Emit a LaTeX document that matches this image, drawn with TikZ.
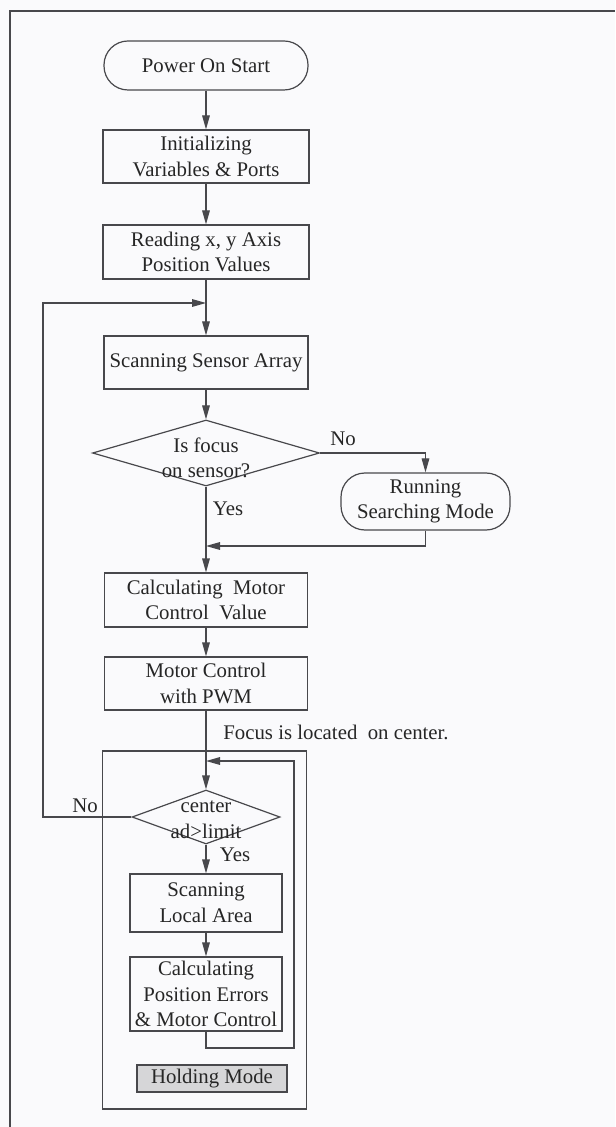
\documentclass[tikz,border=0pt]{standalone}
\usepackage{fontspec}
\setmainfont{Liberation Serif}
\usepackage{xcolor}
\usetikzlibrary{shapes.geometric,arrows,arrows.meta,calc,positioning}
\definecolor{ink}{RGB}{72,72,76}
\definecolor{paper}{RGB}{250,250,252}
\definecolor{holdgray}{RGB}{214,214,216}

\begin{document}
\begin{tikzpicture}[x = 0.5pt, y = -0.5pt]
	\tikzstyle{every node} = [font = \fontsize{10.4}{12.8}\selectfont, text = black!85, align = center]
	\tikzstyle{box} = [rectangle, draw = ink, line width = 0.6pt, inner sep = 0pt]
	\tikzstyle{term} = [rectangle, rounded corners = 12pt, draw = ink, line width = 0.6pt, inner sep = 0pt]
	\tikzstyle{dec} = [diamond, draw = ink, line width = 0.6pt, inner sep = 0pt]
	\tikzstyle{arr} = [draw = ink, line width = 0.6pt, -{Triangle[length = 7pt, width = 3.8pt]}]
\fill[paper] (0, 0) rectangle (615, 1127);
\useasboundingbox (0, 0) rectangle (615, 1127);
\draw[ink, line width = 0.8pt] (10, 1127) -- (10, 11) -- (615, 11);
% main column
\node[term, minimum width = 102pt, minimum height = 24.5pt] (0) at (206, 65.5) {Power On Start};
\node[box, minimum width = 103pt, minimum height = 26.5pt] (1) at (206, 156.5) {Initializing\\Variables \& Ports};
\node[box, minimum width = 103pt, minimum height = 27pt] (2) at (206, 252) {Reading x, y Axis\\Position Values};
\node[box, minimum width = 102pt, minimum height = 26.5pt] (3) at (206, 362.5) {Scanning Sensor Array};
\node[dec, minimum width = 113.5pt, minimum height = 33pt, label = {[align = center, yshift = -2.5pt]center:Is focus\\on sensor?}] (4) at (206, 453) {};
\node[term, minimum width = 84.5pt, minimum height = 28.5pt] (5) at (425.5, 501.5) {Running\\Searching Mode};
\node[box, minimum width = 101.5pt, minimum height = 27pt] (6) at (206, 600) {Calculating\ \ Motor\\Control\ \ Value};
\node[box, minimum width = 101.5pt, minimum height = 26.5pt] (7) at (206, 683.5) {Motor Control\\with PWM};
% holding mode
\node[box, minimum width = 102pt, minimum height = 179pt] (8) at (204.5, 930) {};
\node[dec, minimum width = 74pt, minimum height = 27pt, label = {[align = center, yshift = -1.5pt]center:center\\ad>limit}] (9) at (206, 817) {};
\node[box, minimum width = 76pt, minimum height = 29pt] (10) at (206, 903) {Scanning\\Local Area};
\node[box, minimum width = 76pt, minimum height = 37pt] (11) at (206, 994) {Calculating\\Position Errors\\\& Motor Control};
\node[box, fill = holdgray, minimum width = 75pt, minimum height = 13.5pt] (12) at (212, 1078.5) {Holding Mode};
% labels
\node (13) at (343, 439) {No};
\node (14) at (228, 509) {Yes};
\node (15) at (336, 732) {Focus is located\ \ on center.};
\node (16) at (85, 806) {No};
\node (17) at (235, 855) {Yes};
\coordinate (a) at (206, 303);
\coordinate (b) at (43, 817);
\coordinate (c) at (206, 546);
\coordinate (d) at (294, 1048);
\coordinate (e) at (206, 761);
	\path[arr] (0) -- (1);
	\path[arr] (1) -- (2);
	\path[arr] (2) -- (3);
	\path[arr] (9.west) -- (b) |- (a);
	\path[arr] (3) -- (4);
	\path[arr] (4.east) -| (5.north);
	\path[arr] (5.south) |- (c);
	\path[arr] (4.south) -- (6.north);
	\path[arr] (6) -- (7);
	\path[arr] (7.south) -- (9.north);
	\path[arr] (9.south) -- (10.north);
	\path[arr] (10) -- (11);
	\path[arr] (11.south) |- (d) |- (e);
\end{tikzpicture}
\end{document}
